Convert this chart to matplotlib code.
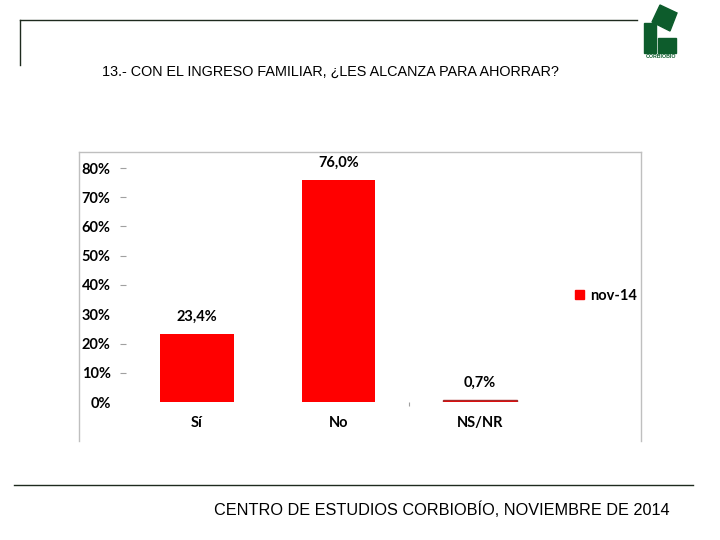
import matplotlib
matplotlib.use("Agg")
import matplotlib.pyplot as plt
import matplotlib.patches as mpatches
from matplotlib.lines import Line2D

categories = ["Sí", "No", "NS/NR"]
values = [23.4, 76.0, 0.7]
value_labels = ["23,4%", "76,0%", "0,7%"]
yticks = [0, 10, 20, 30, 40, 50, 60, 70, 80]
ytick_labels = ["0%", "10%", "20%", "30%", "40%", "50%", "60%", "70%", "80%"]
series_name = "nov-14"
title = "13.- CON EL INGRESO FAMILIAR, ¿LES ALCANZA PARA AHORRAR?"
footer = "CENTRO DE ESTUDIOS CORBIOBÍO, NOVIEMBRE DE 2014"

W, H = 720, 540
fig = plt.figure(figsize=(7.2, 5.4), dpi=100)
fig.patch.set_facecolor("white")

def fx(x):
    return x / W

def fy(y):
    return 1 - y / H

# header lines
fig.add_artist(Line2D([fx(20), fx(637)], [fy(20), fy(20)], color="#1e2a1e", lw=1.0))
fig.add_artist(Line2D([fx(20), fx(20)], [fy(20), fy(65)], color="#1e2a1e", lw=1.0))
fig.text(fx(330), fy(72), title, ha="center", va="center", fontsize=10.4,
         family="Liberation Sans", color="black")

# logo
green = "#0d5c2c"
logo_ax = fig.add_axes([fx(640), fy(60), fx(42), (60 - 3) / H])
logo_ax.set_xlim(0, 42)
logo_ax.set_ylim(57, 0)
logo_ax.axis("off")
logo_ax.add_patch(mpatches.Rectangle((4, 20), 12, 30, color=green))
logo_ax.add_patch(mpatches.Rectangle((18, 35), 18, 15, color=green))
logo_ax.add_patch(mpatches.Polygon([[20, 2], [37, 10], [30, 28], [12, 19]], closed=True, color=green))
logo_ax.text(21, 54, "CORBIOBIO", ha="center", va="center", fontsize=3.8, color=green,
             family="Liberation Sans", fontweight="bold")

# chart frame
fc = "#bfbfbf"
fig.add_artist(Line2D([fx(79), fx(641)], [fy(152), fy(152)], color=fc, lw=1.0))
fig.add_artist(Line2D([fx(79), fx(79)], [fy(152), fy(441)], color=fc, lw=1.0))
fig.add_artist(Line2D([fx(641), fx(641)], [fy(152), fy(441)], color=fc, lw=1.0))

# main axes
ax = fig.add_axes([fx(126), fy(402), fx(551 - 126), (402 - 168) / H])
x = list(range(len(categories)))
bars = ax.bar(x, values, width=0.52, color="#ff0000", edgecolor="none", label=series_name)
bars[2].set_edgecolor("#a52a2a")
bars[2].set_linewidth(1.0)
ax.set_xlim(-0.5, 2.5)
ax.set_ylim(0, 80)
for s in ax.spines.values():
    s.set_visible(False)
ax.set_yticks(yticks)
ax.set_yticklabels(ytick_labels, fontsize=10.5, fontweight="bold", family="Lato")
ax.tick_params(axis="y", length=4, width=0.8, color="#a0a0a0", pad=7)
for i, t in enumerate(ax.yaxis.get_major_ticks()):
    if yticks[i] in (0, 30):
        t.tick1line.set_visible(False)
ax.set_xticks(x)
ax.set_xticklabels(categories, fontsize=10.5, fontweight="bold", family="Lato")
ax.tick_params(axis="x", length=0, pad=10)
ax.set_xticks([1.5], minor=True)
ax.tick_params(axis="x", which="minor", length=3, width=0.8, color="#a0a0a0")
for xi, v, lab in zip(x, values, value_labels):
    ax.annotate(lab, (xi, v), xytext=(0, 7), textcoords="offset points",
                ha="center", va="bottom", fontsize=10.5, fontweight="bold",
                family="Lato", clip_on=False)

leg = fig.legend(handles=[mpatches.Patch(color="#ff0000", label=series_name)],
                 loc="center left", bbox_to_anchor=(fx(562), fy(296)), frameon=False,
                 prop={"family": "Lato", "weight": "bold", "size": 10.5},
                 handlelength=0.6, handleheight=0.6, handletextpad=0.4)

# footer
fig.add_artist(Line2D([fx(14), fx(693)], [fy(485), fy(485)], color="#1e2a1e", lw=1.0))
fig.text(fx(670), fy(510), footer, ha="right", va="center", fontsize=11.7,
         family="Liberation Sans", color="black")

fig.savefig("out.png", dpi=100, facecolor="white")
